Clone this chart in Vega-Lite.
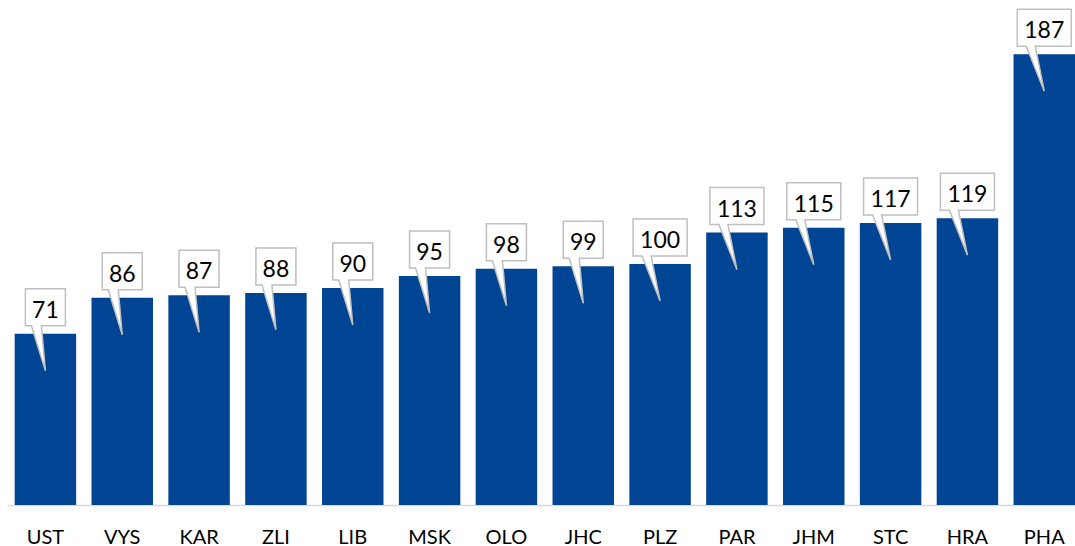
{
  "$schema": "https://vega.github.io/schema/vega-lite/v6.json",
  "width": 1068,
  "height": 505,
  "padding": {"left": 7, "top": 0, "right": 0, "bottom": 41},
  "autosize": {"type": "none"},
  "config": {"view": {"stroke": null}, "font": "Lato"},
  "data": {
    "values": [
      {"region": "UST", "value": 71},
      {"region": "VYS", "value": 86},
      {"region": "KAR", "value": 87},
      {"region": "ZLI", "value": 88},
      {"region": "LIB", "value": 90},
      {"region": "MSK", "value": 95},
      {"region": "OLO", "value": 98},
      {"region": "JHC", "value": 99},
      {"region": "PLZ", "value": 100},
      {"region": "PAR", "value": 113},
      {"region": "JHM", "value": 115},
      {"region": "STC", "value": 117},
      {"region": "HRA", "value": 119},
      {"region": "PHA", "value": 187}
    ]
  },
  "encoding": {
    "x": {
      "field": "region",
      "type": "nominal",
      "sort": null,
      "scale": {"paddingInner": 0.2, "paddingOuter": 0.05, "align": 1},
      "axis": {
        "title": null,
        "labelAngle": 0,
        "ticks": false,
        "labelPadding": 22,
        "labelFontSize": 20,
        "labelColor": "#000000",
        "labelFont": "Lato",
        "domainColor": "#D9D9D9",
        "domainWidth": 1.5
      }
    },
    "y": {
      "field": "value",
      "type": "quantitative",
      "scale": {"domain": [0, 209.5], "nice": false},
      "axis": null
    }
  },
  "layer": [
    {"mark": {"type": "bar", "color": "#004494"}},
    {
      "mark": {
        "type": "point",
        "filled": true,
        "fill": "#FFFFFF",
        "stroke": "#BFBFBF",
        "strokeWidth": 1.5,
        "opacity": 1,
        "fillOpacity": 1,
        "strokeOpacity": 1,
        "size": 4
      },
      "encoding": {
        "shape": {
          "condition": {
            "test": "datum.value >= 100",
            "value": "M-27,-45 L27,-45 L27,-8 L-9,-8 L0,37 L-18,-8 L-27,-8 Z"
          },
          "value": "M-20,-45 L20,-45 L20,-8 L-4,-8 L0,37 L-14,-8 L-20,-8 Z"
        }
      }
    },
    {
      "mark": {
        "type": "text",
        "baseline": "alphabetic",
        "align": "center",
        "dy": -16,
        "fontSize": 23,
        "font": "Lato",
        "color": "#000000"
      },
      "encoding": {"text": {"field": "value", "type": "quantitative"}}
    }
  ]
}
